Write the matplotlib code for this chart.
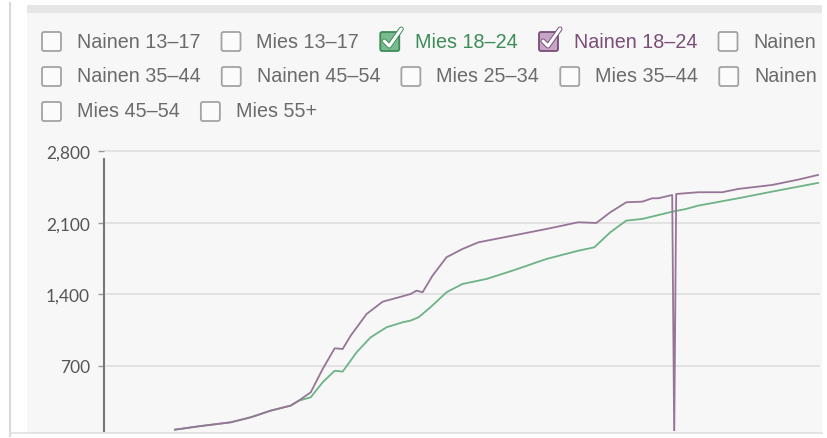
import matplotlib.pyplot as plt
import matplotlib.patheffects as pe
from matplotlib.patches import FancyBboxPatch, Rectangle
from matplotlib.ticker import FuncFormatter

# paivat (x) ja kertyma - Nainen 18-24
days_nainen = [0, 6, 14, 19, 24, 29, 31, 34, 37, 40, 42, 44, 48, 52, 57, 59, 60.5, 62,
               64.5, 68, 72, 76, 84.5, 93, 101, 105.5, 109, 113, 117, 119.5, 121,
               124.5, 125, 125.5, 131, 137, 141, 149.5, 156, 161]
nainen_18_24 = [78, 111, 150, 199, 264, 313, 361, 443, 671, 873, 866, 996, 1208, 1328,
                1381, 1403, 1436, 1420, 1582, 1762, 1843, 1908, 1973, 2038, 2104, 2097,
                2201, 2299, 2305, 2338, 2338, 2370, 0, 2380, 2397, 2397, 2429, 2468,
                2520, 2566]

# Mies 18-24
days_mies = [0, 6, 14, 19, 24, 29, 31, 34, 37, 40, 42, 45.5, 49, 53, 57, 59, 61, 64,
             68, 72, 78, 84.5, 93, 101, 105, 109, 113, 117, 124.5, 128, 131, 141,
             149.5, 161]
mies_18_24 = [78, 111, 150, 199, 264, 313, 361, 394, 541, 654, 645, 834, 980, 1078,
              1127, 1143, 1176, 1274, 1420, 1501, 1550, 1631, 1745, 1826, 1859, 2006,
              2120, 2136, 2207, 2234, 2266, 2338, 2403, 2488]

yticks = [700, 1400, 2100, 2800]

legend_rows = [
    ["Nainen 13–17", "Mies 13–17", "Mies 18–24", "Nainen 18–24", "Nainen"],
    ["Nainen 35–44", "Nainen 45–54", "Mies 25–34", "Mies 35–44", "Nainen"],
    ["Mies 45–54", "Mies 55+"],
]
checked = {
    "Mies 18–24": ("#3e8c58", "#79bb8e"),
    "Nainen 18–24": ("#7b4d79", "#c6a5c5"),
}

green = "#6db386"
purple = "#967596"

W, H = 827, 439
fig = plt.figure(figsize=(W / 100, H / 100), dpi=100)
fig.patch.set_facecolor("white")

# tausta / kehys
bg = fig.add_axes([0, 0, 1, 1], zorder=0)
bg.set_xlim(0, W)
bg.set_ylim(H, 0)
bg.axis("off")
bg.add_patch(Rectangle((27, 14), 795, 420, facecolor="#f7f7f7", edgecolor="none"))
bg.add_patch(Rectangle((27, 6), 795, 8, facecolor="#e6e6e6", edgecolor="none"))
bg.plot([10, 10], [4, 437], color="#d9d9d9", lw=1.5)
bg.plot([10, 822], [434.5, 434.5], color="#e0e0e0", lw=1.2)

# valintaruudut
renderer = fig.canvas.get_renderer()
row_y = [42, 77, 112]
for row, yc in zip(legend_rows, row_y):
    x = 42
    for lab in row:
        if lab in checked:
            edge, fill = checked[lab]
            tcol = edge
        else:
            edge, fill, tcol = "#a3a3a3", "#fbfbfb", "#6b6b6b"
        bg.add_patch(FancyBboxPatch((x, yc - 9), 19, 19,
                                    boxstyle="round,pad=0,rounding_size=2",
                                    facecolor=fill, edgecolor=edge, lw=1.3))
        if lab in checked:
            bg.plot([x + 4, x + 9, x + 21], [yc, yc + 5, yc - 12], color="white",
                    lw=2.2, solid_capstyle="round",
                    path_effects=[pe.Stroke(linewidth=3.6, foreground=edge), pe.Normal()])
        t = bg.text(x + 35, yc, lab, ha="left", va="center", fontsize=14.2,
                    family="Liberation Sans", color=tcol)
        x = x + 35 + t.get_window_extent(renderer).width + 21

# kaavio
ax = fig.add_axes([104 / W, (H - 432) / H, 716 / W, 292 / H], zorder=1)
ax.set_facecolor("none")
ax.plot(days_mies, mies_18_24, color=green, lw=1.3)
ax.plot(days_nainen, nainen_18_24, color=purple, lw=1.3)
ax.set_xlim(-17.75, 161.5)
ax.set_ylim(65, 2917)
ax.set_yticks(yticks)
ax.yaxis.set_major_formatter(FuncFormatter(lambda v, p: f"{v:,.0f}"))
ax.grid(axis="y", color="#e2e2e2", lw=1.4)
ax.set_axisbelow(True)
for s in ["top", "right", "bottom"]:
    ax.spines[s].set_visible(False)
ax.spines["left"].set_bounds(65, 2722)
ax.spines["left"].set_color("#777777")
ax.spines["left"].set_linewidth(1.5)
ax.tick_params(axis="y", length=4, width=1, color="#999999", labelsize=12.5,
               labelcolor="#555555", pad=6)
ax.tick_params(axis="x", bottom=False, labelbottom=False)
for lbl in ax.get_yticklabels():
    lbl.set_family("Lato")

fig.savefig("out.png", dpi=100)
